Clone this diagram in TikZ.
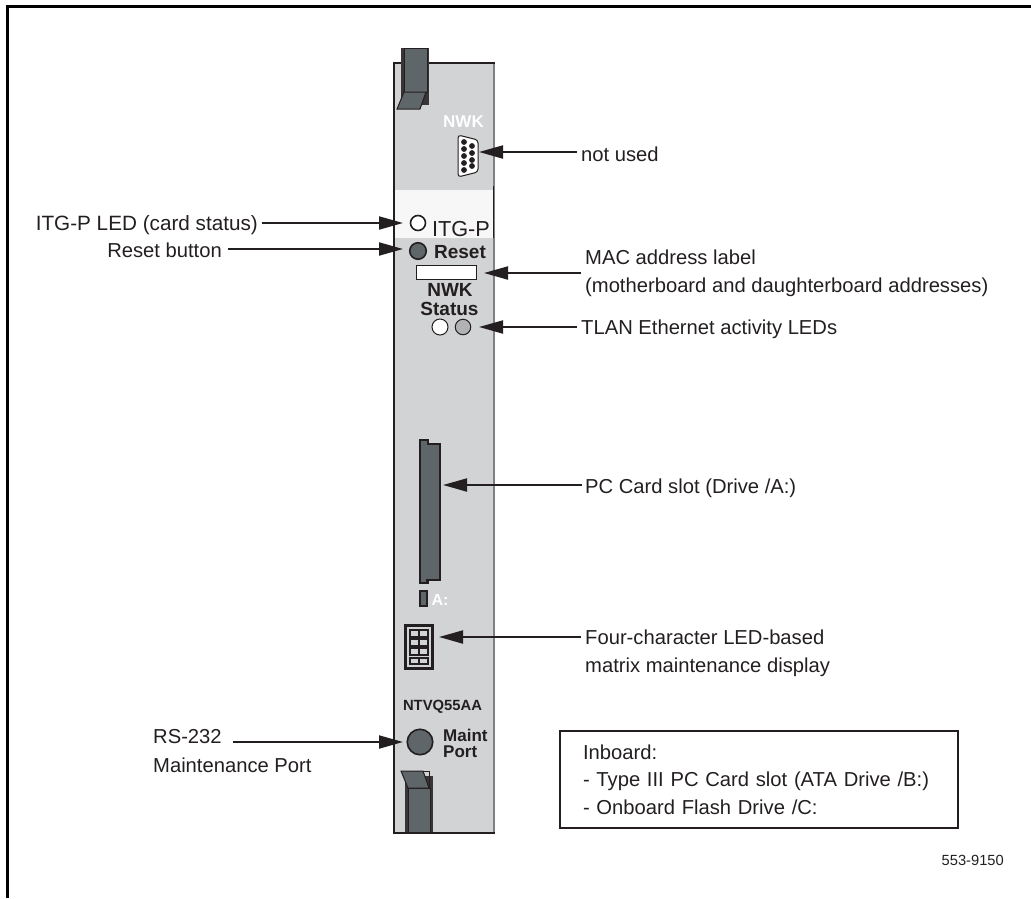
\documentclass[tikz,border=0pt]{standalone}
\usepackage{fontspec}
\setmainfont{Liberation Sans}
\usetikzlibrary{arrows.meta}
\definecolor{cardgray}{HTML}{D1D3D4}
\definecolor{darkpart}{HTML}{5E6669}
\definecolor{inkline}{HTML}{231F20}
\tikzset{
	callout/.style={draw=inkline, line width=2pt, -{Triangle[length=24pt,width=13pt]}},
	lbl/.style={font=\fontsize{20.2}{28}\selectfont, text=inkline, align=left, inner xsep=4.5pt},
	cardtext/.style={font=\bfseries, text=inkline, inner sep=0pt, anchor=base},
	hole/.style={circle, draw=inkline, line width=1.6pt, inner sep=0pt}
}

\begin{document}
\begin{tikzpicture}[x=1pt, y=-1pt]
	\useasboundingbox (0,0) rectangle (1031,898);
	% page frame, open at right and bottom
	\draw[black, line width=3.2pt] (7.5,898) -- (7.5,6.3) -- (1031,6.3);
	% faceplate
	\fill[cardgray] (394,63) rectangle (494,833);
	\fill[white!97!black] (394,190) rectangle (494,238);
	\draw[gray, line width=1.6pt] (494,63) -- (494,833);
	\draw[inkline, line width=1pt] (493.5,186) -- (493.5,238);
	\draw[inkline, line width=2.4pt] (494.5,63) -- (394,63) -- (394,833) -- (494.5,833);
	% top latch
	\fill[inkline!90] (401,48) rectangle (429,105);
	\draw[inkline, fill=darkpart, line width=1pt] (404,48) rectangle (427,92);
	\draw[inkline, fill=darkpart, line width=1pt] (404,92) -- (426,92) -- (420,109) -- (397,109) -- cycle;
	% bottom latch
	\fill[inkline!90] (405,776) rectangle (433,832);
	\draw[inkline, fill=darkpart, line width=1pt] (408,788) rectangle (430,832);
	\draw[inkline, fill=darkpart, line width=1pt] (401,771) -- (423,771) -- (429,788) -- (408,788) -- cycle;
	\draw[inkline, line width=1pt] (423,771) -- (429,771) -- (429,788);
	% serial connector
	\node[cardtext, white, font=\fontsize{17}{20}\selectfont\bfseries] (nwktop) at (463.5,127) {NWK};
	\draw[inkline, fill=white, line width=1pt, rounded corners=3pt] (458,135) -- (478,140) -- (478,172) -- (458,177) -- cycle;
	\foreach \y in {142,149,156,163,170}
		\fill[inkline] (464,\y) circle (2.9pt);
	\foreach \y in {146,153,160,166}
		\fill[inkline] (472,\y) circle (2.9pt);
	% status area
	\node[hole, fill=white, minimum size=15pt] (ledcard) at (418,223) {};
	\node[text=inkline, inner sep=0pt, anchor=base, font=\fontsize{21.7}{24}\selectfont] (itgtxt) at (461,236) {ITG-P};
	\node[hole, fill=darkpart, minimum size=16.5pt] (btnreset) at (418,251) {};
	\node[cardtext, font=\fontsize{19}{22}\selectfont\bfseries] (resettxt) at (460,258) {Reset};
	\node[draw=inkline, fill=white, line width=1pt, minimum width=60pt, minimum height=14pt, inner sep=0pt] (maclabel) at (446,272) {};
	\node[cardtext, font=\fontsize{19}{22}\selectfont\bfseries] (nwktxt) at (450,296) {NWK};
	\node[cardtext, font=\fontsize{19}{22}\selectfont\bfseries] (statustxt) at (449.5,315) {Status};
	\node[hole, fill=white, line width=1pt, minimum size=16pt] (ledone) at (440,327) {};
	\node[hole, fill=gray!60, line width=1pt, minimum size=15.5pt] (ledtwo) at (463,327) {};
	% PC card slot
	\draw[inkline, fill=darkpart, line width=2.4pt] (420,440) -- (428,440) -- (428,444) -- (440,444) -- (440,580) -- (427.5,580) -- (427.5,583) -- (420,583) -- cycle;
	\draw[inkline, fill=darkpart, line width=2pt] (420,591) rectangle (427,606);
	\node[cardtext, white, font=\fontsize{16}{18}\selectfont\bfseries] (drivea) at (440,605) {A:};
	% maintenance display
	\draw[inkline, fill=cardgray, line width=3pt] (405.5,625.5) rectangle (432.5,668.5);
	\foreach \r in {0,1,2,3} {
		\draw[inkline, line width=2pt] (410,{630+9.2*\r}) rectangle (419,{636.5+9.2*\r});
		\draw[inkline, line width=2pt] (419,{630+9.2*\r}) rectangle (428,{636.5+9.2*\r});
	}
	\node[cardtext, font=\fontsize{14.8}{17}\selectfont\bfseries] (cardname) at (442.5,710) {NTVQ55AA};
	\node[hole, fill=darkpart, minimum size=25.5pt] (maintport) at (420,742) {};
	\node[cardtext, font=\fontsize{17}{16}\selectfont\bfseries, anchor=base west] (mainttxt) at (443,741) {Maint};
	\node[cardtext, font=\fontsize{17}{16}\selectfont\bfseries, anchor=base west] (porttxt) at (443,757) {Port};
	% arrow ends
	\coordinate (tipnwk) at (479,152);
	\coordinate (tipcard) at (403,223);
	\coordinate (tipreset) at (403,249);
	\coordinate (tipmac) at (484,273);
	\coordinate (tiptlan) at (479,327);
	\coordinate (tipslot) at (443,485);
	\coordinate (tipdisplay) at (439,637);
	\coordinate (tipmaint) at (403,742);
	% labels
	\node[lbl, anchor=base west] (lblnwk) at (576.5,161) {not used};
	\node[lbl, anchor=base east, inner xsep=3.5pt, font=\fontsize{20.7}{28}\selectfont] (lblcard) at (261.5,230) {ITG-P LED (card status)};
	\node[lbl, anchor=base east, inner xsep=5.5pt] (lblreset) at (227.5,257) {Reset button};
	\node[lbl, anchor=west] (lblmac) at (580.5,273.5) {MAC address label\\(motherboard and daughterboard addresses)};
	\node[lbl, anchor=base west] (lbltlan) at (576.5,334) {TLAN Ethernet activity LEDs};
	\node[lbl, anchor=base west, inner xsep=3pt] (lblslot) at (582,493) {PC Card slot (Drive /A:)};
	\node[lbl, anchor=west] (lbldisplay) at (580.5,653) {Four-character LED-based\\matrix maintenance display};
	\node[lbl, anchor=base west] (lblrs) at (148.5,743) {RS-232};
	\node[lbl, anchor=base west] (lblmaint) at (148.5,772) {Maintenance Port};
	% connectors
	\draw[callout] (lblnwk.west |- tipnwk) -- (tipnwk);
	\draw[callout] (lblcard.east |- tipcard) -- (tipcard);
	\draw[callout] (lblreset.east |- tipreset) -- (tipreset);
	\draw[callout] (lblmac.west |- tipmac) -- (tipmac);
	\draw[callout] (lbltlan.west |- tiptlan) -- (tiptlan);
	\draw[callout] (lblslot.west |- tipslot) -- (tipslot);
	\draw[callout] (lbldisplay.west |- tipdisplay) -- (tipdisplay);
	\draw[callout] (lblrs.east |- tipmaint) ++(7,0) -- (tipmaint);
	% inboard note
	\node[draw=inkline, line width=2pt, minimum height=97pt, text width=352pt, inner xsep=23pt, align=left, text=inkline, font=\fontsize{20.2}{27.5}\selectfont] (inboard) at (759,779.5) {Inboard:\\- Type III PC Card slot (ATA Drive /B:)\\- Onboard Flash Drive /C:};
	\node[anchor=base east, inner sep=0pt, text=inkline, font=\fontsize{14.7}{17}\selectfont] (figno) at (1004,865) {553-9150};
\end{tikzpicture}
\end{document}
